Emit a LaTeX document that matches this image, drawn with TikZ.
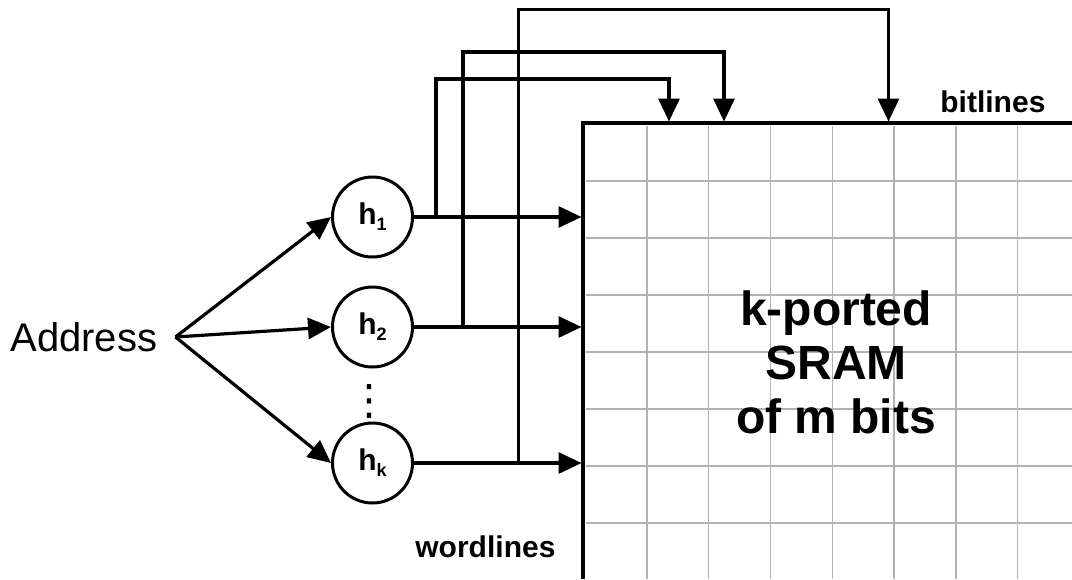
\documentclass[tikz,border=0pt]{standalone}
\usepackage{fontspec}
\setmainfont{Liberation Sans}
\newfontfamily\symfont{DejaVu Sans}
\usetikzlibrary{arrows.meta}

\begin{document}
\begin{tikzpicture}[x=0.5pt, y=-0.5pt,
  wire/.style={line width=1.6pt},
  port/.style={wire, -{Triangle[length=11.5pt, width=10.5pt]}},
  hashnode/.style={circle, draw, line width=1.5pt, minimum size=40pt, inner sep=0pt,
    font=\bfseries\fontsize{15}{15}\selectfont},
  lbl/.style={font=\bfseries\fontsize{15}{15}\selectfont, inner sep=0pt}]
% SRAM array drawn on a pixel grid
\providecommand{\sramGridColor}{black!30}
\providecommand{\sramGridWidth}{0.75pt}
\providecommand{\sramFrameWidth}{1.7pt}
\providecommand{\hsub}[1]{h\raisebox{-3pt}{\fontsize{9}{9}\selectfont #1}}
\useasboundingbox (0,0) rectangle (1072,579);
  % Cell grid
  % Vertical lines
  \begin{scope}[draw=\sramGridColor, line width=\sramGridWidth]
    \draw (647,126) -- (647,579);
    \draw (708.5,126) -- (708.5,579);
    \draw (770.5,126) -- (770.5,579);
    \draw (832.5,126) -- (832.5,579);
    \draw (894,126) -- (894,579);
    \draw (956,126) -- (956,579);
    \draw (1017.5,126) -- (1017.5,579);
  \end{scope}
  % Horizontal lines
  \begin{scope}[draw=\sramGridColor, line width=\sramGridWidth]
    \draw (586,181) -- (1072,181);
    \draw (586,238) -- (1072,238);
    \draw (586,295) -- (1072,295);
    \draw (586,352) -- (1072,352);
    \draw (586,409) -- (1072,409);
    \draw (586,466) -- (1072,466);
    \draw (586,523) -- (1072,523);
  \end{scope}
  % Frame (left and top edges)
  \coordinate (frame) at (581.5,121.5);
  \draw[line width=\sramFrameWidth] (583,579) -- (583,123) -- (1072,123);
  \node[font=\bfseries\fontsize{24}{27}\selectfont, align=center] (sram) at (836,362)
    {k-ported\\SRAM\\of m bits};
  % Hash functions
  \node[hashnode] (h1) at (372.5,217) {\hsub{1}};
  \node[hashnode] (h2) at (372.5,327) {\hsub{2}};
  \node[hashnode] (hk) at (372.5,463) {\hsub{k}};
  \node[font=\symfont\fontsize{21}{21}\selectfont, inner sep=0pt] (dots) at (369,401) {⋮};
  \node[font=\fontsize{20}{20}\selectfont, anchor=east, inner ysep=0pt, inner xsep=9pt] (addr)
    at (175.5,337) {Address};
  \draw[port] (addr.east) -- (h1.west);
  \draw[port] (addr.east) -- (h2.west);
  \draw[port] (addr.east) -- (hk.west);
  % Wordlines
  \draw[port] (h1.east) -- (h1.east -| frame);
  \draw[port] (h2.east) -- (h2.east -| frame);
  \draw[port] (hk.east) -- (hk.east -| frame);
  % Bitlines
  \coordinate (bend1) at (436,79);
  \coordinate (bend2) at (463,52);
  \coordinate (bendk) at (518.5,9.5);
  \coordinate (bl1) at (669,121.5);
  \coordinate (bl2) at (724,121.5);
  \coordinate (blk) at (888.5,121.5);
  \draw[port] (bend1 |- h1.east) -- (bend1) -| (bl1);
  \draw[port] (bend2 |- h2.east) -- (bend2) -| (bl2);
  \draw[port] (bendk |- hk.east) -- (bendk) -| (blk);
  % Labels
  \node[lbl, anchor=base west] (bitlbl) at (940,112.7) {bitlines};
  \node[lbl, anchor=base west] (wordlbl) at (415,557.3) {wordlines};
\end{tikzpicture}
\end{document}
